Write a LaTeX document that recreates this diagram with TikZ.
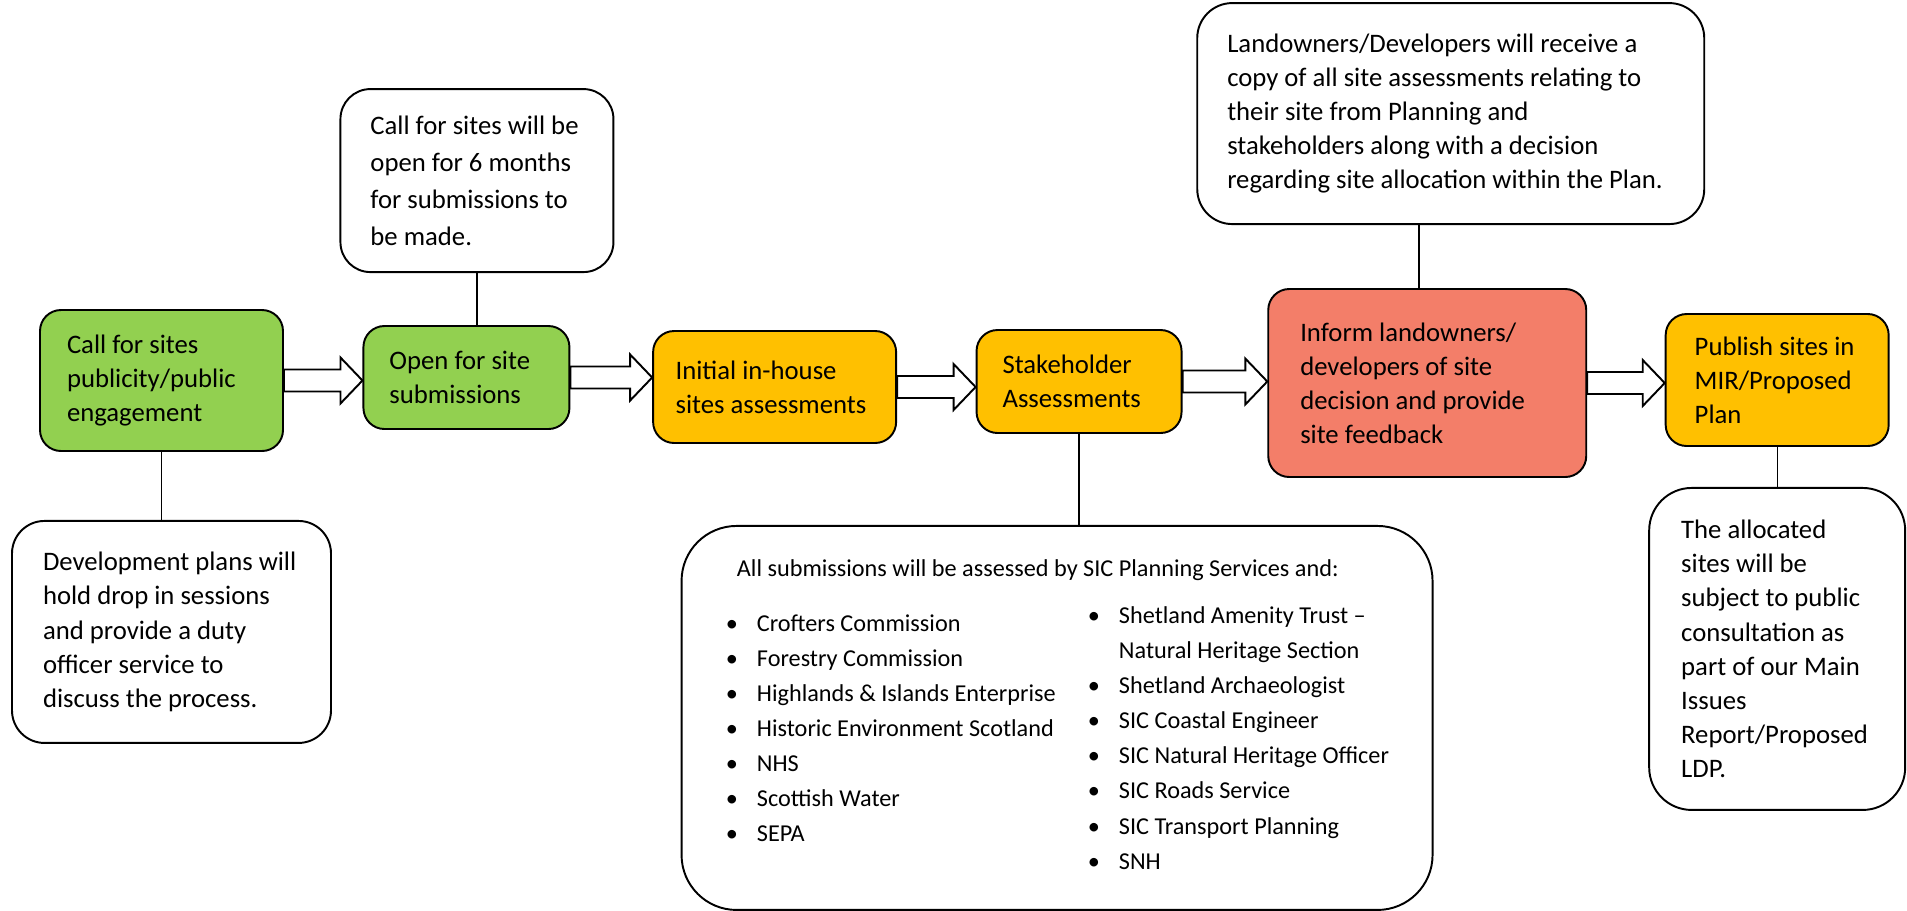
\documentclass[tikz,border=0pt]{standalone}
\usepackage{fontspec}
\setmainfont{Carlito}
\usetikzlibrary{positioning, calc}

\definecolor{stagegreen}{HTML}{92D050}
\definecolor{stageamber}{HTML}{FFC000}
\definecolor{stagesalmon}{HTML}{F37E69}

\newcommand{\itembul}{\makebox[0.62cm][l]{\textbullet}}

\begin{document}
\begin{tikzpicture}[
        Stage/.style={rectangle, rounded corners=0.42cm, draw=black, line width=1.1pt, align=flush left, inner ysep=0pt, font=\fontsize{15.2}{19.4}\selectfont},
        Note/.style={rectangle, rounded corners=0.65cm, draw=black, fill=white, line width=1.1pt, align=flush left, inner ysep=0pt, font=\fontsize{15.2}{19.4}\selectfont},
        Link/.style={line width=1.1pt},
        Flow/.style={draw=black, fill=white, line width=1.1pt, to path={let \p1=(\tikztostart), \p2=(\tikztotarget) in (\x1,\y1+0.22cm) -- (\x2-0.44cm,\y1+0.22cm) -- (\x2-0.44cm,\y1+0.46cm) -- (\x2,\y1) -- (\x2-0.44cm,\y1-0.46cm) -- (\x2-0.44cm,\y1-0.22cm) -- (\x1,\y1-0.22cm) -- cycle}},
        ListText/.style={align=flush left, inner sep=0pt, font=\fontsize{13.8}{20}\selectfont}
    ]

    \useasboundingbox (0,0) rectangle (38.14,-18.2);

    % Draw the stages along the main row
    \node (callbox) [Stage, fill=stagegreen, text width=3.78cm, inner xsep=0.54cm, minimum height=2.82cm] at (3.23,-7.61) {Call for sites\\publicity/public\\engagement};
    \node (openbox) [Stage, fill=stagegreen, text width=3.08cm, inner xsep=0.52cm, minimum height=2.06cm, right=1.57cm of callbox, yshift=0.06cm] {Open for site\\submissions};
    \node (initbox) [Stage, fill=stageamber, text width=3.96cm, inner xsep=0.45cm, minimum height=2.24cm, right=1.635cm of openbox, yshift=-0.19cm] {Initial in-house\\sites assessments};
    \node (stakebox) [Stage, fill=stageamber, text width=3.06cm, inner xsep=0.52cm, minimum height=2.06cm, right=1.57cm of initbox, yshift=0.11cm] {Stakeholder\\Assessments};
    \node (informbox) [Stage, fill=stagesalmon, text width=5.08cm, inner xsep=0.64cm, minimum height=3.76cm, right=1.695cm of stakebox, yshift=-0.03cm] {Inform landowners/\\developers of site\\decision and provide\\site feedback};
    \node (publishbox) [Stage, fill=stageamber, text width=3.3cm, inner xsep=0.58cm, minimum height=2.64cm, right=1.55cm of informbox, yshift=0.06cm] {Publish sites in\\MIR/Proposed\\Plan};

    % Draw the notes above and below the stages
    \node (devnote) [Note, text width=5.14cm, inner xsep=0.62cm, minimum height=4.44cm, below=1.36cm of callbox, xshift=0.2cm] {Development plans will\\hold drop in sessions\\and provide a duty\\officer service to\\discuss the process.};
    \node (callnote) [Note, rounded corners=0.6cm, text width=4.26cm, inner xsep=0.6cm, minimum height=3.66cm, font=\fontsize{15.2}{21}\selectfont, above=1.04cm of openbox, xshift=0.21cm] {Call for sites will be\\open for 6 months\\for submissions to\\be made.};
    \node (listnote) [Note, rounded corners=1.1cm, minimum width=15.02cm, minimum height=7.68cm, below=1.82cm of stakebox, xshift=-0.44cm] {};
    \node (landnote) [Note, rounded corners=0.7cm, text width=8.94cm, inner xsep=0.6cm, minimum height=4.42cm, above=1.26cm of informbox, xshift=0.47cm] {Landowners/Developers will receive a\\copy of all site assessments relating to\\their site from Planning and\\stakeholders along with a decision\\regarding site allocation within the Plan.};
    \node (allocnote) [Note, rounded corners=0.85cm, text width=3.84cm, inner xsep=0.64cm, minimum height=6.44cm, below=0.8cm of publishbox] {The allocated\\sites will be\\subject to public\\consultation as\\part of our Main\\Issues\\Report/Proposed\\LDP.};

    % Fill in the stakeholder list
    \node (stakehead) [ListText, anchor=north west] at ([shift={(1.12cm,-0.68cm)}]listnote.north west) {All submissions will be assessed by SIC Planning Services and:};
    \node (stakeleft) [ListText, anchor=north west] at ([shift={(0.9cm,-1.78cm)}]listnote.north west) {\itembul Crofters Commission\\\itembul Forestry Commission\\\itembul Highlands \& Islands Enterprise\\\itembul Historic Environment Scotland\\\itembul NHS\\\itembul Scottish Water\\\itembul SEPA};
    \node (stakeright) [ListText, anchor=north west] at ([shift={(8.14cm,-1.62cm)}]listnote.north west) {\itembul Shetland Amenity Trust --\\\makebox[0.62cm]{}Natural Heritage Section\\\itembul Shetland Archaeologist\\\itembul SIC Coastal Engineer\\\itembul SIC Natural Heritage Officer\\\itembul SIC Roads Service\\\itembul SIC Transport Planning\\\itembul SNH};

    % Tie the notes to their stages
    \draw[Link] (callbox.south) -- (callbox.south |- devnote.north);
    \draw[Link] (callnote.south) -- (callnote.south |- openbox.north);
    \draw[Link] (stakebox.south) -- (stakebox.south |- listnote.north);
    \draw[Link] ([xshift=-0.17cm]informbox.north) -- ([xshift=-0.17cm]informbox.north |- landnote.south);
    \draw[Link, line width=0.6pt] (publishbox.south) -- (publishbox.south |- allocnote.north);

    % Draw the block arrows between stages
    \draw[Flow] (callbox.east) to (openbox.west);
    \draw[Flow] (openbox.east) to (initbox.west);
    \draw[Flow] (initbox.east) to (stakebox.west);
    \draw[Flow] (stakebox.east) to (informbox.west);
    \draw[Flow] (informbox.east) to (publishbox.west);

\end{tikzpicture}
\end{document}
